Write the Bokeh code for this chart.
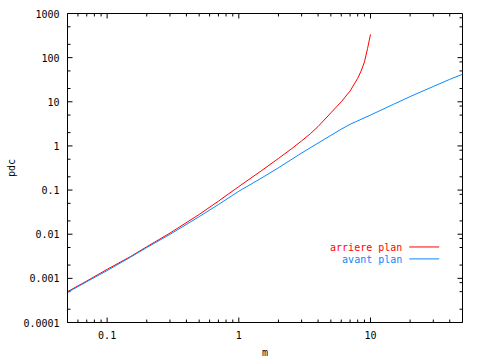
import numpy as np
from bokeh.plotting import figure
from bokeh.models import Range1d, FixedTicker, CustomJSTickFormatter
from bokeh.core.properties import value
from bokeh.embed import file_html
from bokeh.resources import INLINE

# ---- data ----
red_x = [0.05, 0.07, 0.1, 0.15, 0.2, 0.3, 0.5, 0.7, 1, 1.5, 2, 2.5, 3, 3.5, 4, 5, 6, 7, 8, 8.5, 9, 9.5, 9.8, 10]
red_y = [0.0005, 0.00087, 0.0016, 0.0031, 0.0052, 0.0106, 0.028, 0.056, 0.12, 0.28, 0.52, 0.85, 1.3,
         1.9, 2.75, 5.6, 10, 17.5, 34, 50, 80, 160, 250, 336]

blue_x = [0.05, 0.07, 0.1, 0.15, 0.2, 0.3, 0.5, 0.7, 1, 1.5, 2, 3, 4, 5, 6, 7, 8, 10, 15, 20, 30, 40, 50]
blue_y = [0.00048, 0.00084, 0.0015, 0.003, 0.005, 0.0099, 0.025, 0.047, 0.094, 0.19, 0.32, 0.69, 1.16,
          1.73, 2.4, 3.09, 3.7, 5.0, 8.8, 13.1, 22.2, 32.2, 42]

series_labels = ["arriere plan", "avant plan"]
series_colors = ["#ff0000", "#0a88ff"]

x_major = [0.1, 1, 10]
x_minor = [0.06, 0.07, 0.08, 0.09, 0.2, 0.3, 0.4, 0.5, 0.6, 0.7, 0.8, 0.9,
           2, 3, 4, 5, 6, 7, 8, 9, 20, 30, 40]
y_major = [0.0001, 0.001, 0.01, 0.1, 1, 10, 100, 1000]
y_minor_left = [m * d for d in y_major[:-1] for m in (2, 5)]
y_minor_right = [m * d for d in y_major[:-1] for m in (2, 5, 8)]

X_MIN, X_MAX = 0.05, 50
Y_MIN, Y_MAX = 0.0001, 1000

FONT = "DejaVu Sans Mono"

# layout
W, H = 480, 360
BL, BR, BT, BB = 67, 18, 13, 36
FW, FH = W - BL - BR, H - BT - BB
MAJOR_LEN, MINOR_LEN = 5, 3

p = figure(width=W, height=H, x_axis_type="log", y_axis_type="log",
           x_range=Range1d(X_MIN, X_MAX), y_range=Range1d(Y_MIN, Y_MAX),
           output_backend="svg", toolbar_location=None,
           min_border_left=BL, min_border_right=BR, min_border_top=BT, min_border_bottom=BB,
           x_axis_label="m", y_axis_label="pdc")
p.grid.visible = False
p.outline_line_color = "black"
p.outline_line_width = 1
p.background_fill_color = "white"
p.border_fill_color = "white"


def style(ax, major, standoff, label_standoff):
    ax.ticker = FixedTicker(ticks=major, minor_ticks=[])
    ax.axis_line_color = "black"
    ax.major_tick_line_color = None
    ax.minor_tick_line_color = None
    ax.major_tick_in = 0
    ax.major_tick_out = 0
    ax.minor_tick_in = 0
    ax.minor_tick_out = 0
    ax.formatter = CustomJSTickFormatter(code="return tick.toString();")
    ax.major_label_text_font = FONT
    ax.major_label_text_font_size = "10px"
    ax.major_label_text_color = "black"
    ax.major_label_standoff = standoff
    ax.axis_label_text_font = FONT
    ax.axis_label_text_font_size = "10px"
    ax.axis_label_text_font_style = "normal"
    ax.axis_label_text_color = "black"
    ax.axis_label_standoff = label_standoff


style(p.below[0], x_major, 8, 5)
style(p.left[0], y_major, 8, 3)

# ---- inward tick marks (gnuplot style, mirrored on all four sides) ----
def x_len(px):
    return 10 ** (px * np.log10(X_MAX / X_MIN) / FW)


def y_len(px):
    return 10 ** (px * np.log10(Y_MAX / Y_MIN) / FH)


tx0, tx1, ty0, ty1 = [], [], [], []
for ticks, L in ((x_major, MAJOR_LEN), (x_minor, MINOR_LEN)):
    for v in ticks:
        tx0 += [v, v]; tx1 += [v, v]
        ty0 += [Y_MIN, Y_MAX]; ty1 += [Y_MIN * y_len(L), Y_MAX / y_len(L)]
for v in y_major:
    tx0 += [X_MIN, X_MAX]; tx1 += [X_MIN * x_len(MAJOR_LEN), X_MAX / x_len(MAJOR_LEN)]
    ty0 += [v, v]; ty1 += [v, v]
for v in y_minor_left:
    tx0.append(X_MIN); tx1.append(X_MIN * x_len(MINOR_LEN)); ty0.append(v); ty1.append(v)
for v in y_minor_right:
    tx0.append(X_MAX); tx1.append(X_MAX / x_len(MINOR_LEN)); ty0.append(v); ty1.append(v)
p.segment(x0=tx0, y0=ty0, x1=tx1, y1=ty1, line_color="black", line_width=1)

# ---- curves ----
p.line(red_x, red_y, line_color=series_colors[0], line_width=1)
p.line(blue_x, blue_y, line_color=series_colors[1], line_width=1)


# ---- key (gnuplot style: text right-aligned, then line sample) ----
def fx(f):
    return 10 ** (np.log10(X_MIN) + f * (np.log10(X_MAX) - np.log10(X_MIN)))


def fy(f):
    return 10 ** (np.log10(Y_MIN) + f * (np.log10(Y_MAX) - np.log10(Y_MIN)))


key_text_y = [fy(0.2412), fy(0.2026)]
key_line_y = [fy(0.2444), fy(0.2058)]
p.text(x=[fx(0.8476)] * 2, y=key_text_y, text=series_labels, text_color=series_colors,
       text_align="right", text_baseline="middle", text_font=value(FONT), text_font_size="10px")
p.segment(x0=[fx(0.8652)] * 2, x1=[fx(0.941)] * 2, y0=key_line_y, y1=key_line_y,
          line_color=series_colors, line_width=1)

open("out.html", "w").write(file_html(p, INLINE))
